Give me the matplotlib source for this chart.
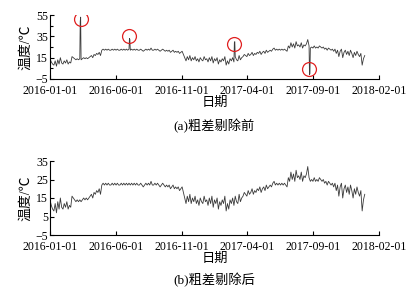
import pandas as pd
import matplotlib
matplotlib.use("Agg")
import matplotlib.pyplot as plt
import matplotlib.dates as mdates

plt.rcParams['font.family'] = ['Liberation Serif', 'Noto Sans CJK SC']
plt.rcParams['axes.unicode_minus'] = True

# daily temperature, one reading every 3 days from 2016-01-01
temps = [
    14, 11, 9, 8, 12, 7, 13, 9, 15, 10,
    9, 12, 10, 13, 9, 11, 10,
    16, 15, 14,
    13, 14, 13, 14, 13, 14, 15, 14, 15, 14,
    15, 16, 17, 15, 18, 17, 19, 18, 20,
    17, 22,
    23, 22, 23, 22, 23, 22, 22, 23, 22,
    23, 22, 23, 22, 22, 23, 22, 23, 22, 23,
    22, 23, 22, 23, 22, 23, 22, 23, 22, 22,
    23, 22, 21, 22, 23, 22, 23, 22, 24, 22,
    22, 23, 22, 23, 22, 21, 22, 23, 22, 21,
    22, 21, 22, 20, 21, 22, 20, 21, 20, 21,
    19, 20, 21,
    18, 15, 12, 16, 13, 17, 12,
    15, 13, 16, 12, 14, 11, 15, 13, 12, 16, 13, 14,
    11, 15, 12, 16, 10, 14, 12, 15, 9, 13, 11, 14, 12, 16,
    8, 12, 9, 14,
    12, 15, 11, 16, 13, 12, 17, 13, 15, 16,
    18, 17, 16, 19, 17, 18, 20, 17, 19, 18,
    20, 19, 21, 18, 20, 21, 19, 22, 20, 21,
    22, 21, 23, 24, 22, 23, 22, 23, 22, 23,
    22, 23, 22, 21,
    26, 24, 29, 25, 28, 24, 30, 26, 27, 25, 29, 24, 27, 26, 28, 32,
    26, 24, 25, 24, 26, 24, 25, 24, 26, 25,
    24, 25, 23, 24, 22, 24, 23, 22, 23, 21,
    23, 19, 22, 16, 21, 23, 15, 20, 22, 18,
    21, 17, 22, 19, 15, 20, 17, 21, 18, 16,
    19, 8, 14, 17,
]

# gross errors present in the raw record
outlier_dates = ['2016-03-11', '2016-03-12', '2016-07-03', '2016-07-04',
                 '2017-03-03', '2017-03-04', '2017-08-24', '2017-08-25']
outlier_vals = [49, 53, 33, 32, 29, 30, -1, 0]

# red circles marking them
circle_dates = ['2016-03-12', '2016-07-03', '2017-03-03', '2017-08-24']
circle_vals = [51, 35.5, 28, 4.5]

tick_dates = ['2016-01-01', '2016-06-01', '2016-11-01',
              '2017-04-01', '2017-09-01', '2018-02-01']

clean = pd.Series(temps, index=pd.date_range('2016-01-01', periods=len(temps), freq='3D'))
raw = pd.concat([clean, pd.Series(outlier_vals, index=pd.to_datetime(outlier_dates))]).sort_index()

W, H = 409, 291
fig = plt.figure(figsize=(W / 100, H / 100), dpi=100)
ax1 = fig.add_axes([50 / W, 1 - 79 / H, 329 / W, 64 / H])
ax2 = fig.add_axes([50 / W, 1 - 235 / H, 329 / W, 74 / H])


def style(ax):
    for s in ('top', 'right'):
        ax.spines[s].set_visible(False)
    for s in ('left', 'bottom'):
        ax.spines[s].set_linewidth(0.8)
    ax.set_xlim(pd.Timestamp('2016-01-01'), pd.Timestamp('2018-02-01'))
    ax.set_xticks(pd.to_datetime(tick_dates))
    ax.xaxis.set_major_formatter(mdates.DateFormatter('%Y-%m-%d'))
    ax.tick_params(direction='in', length=3, width=0.8, labelsize=8.5)
    ax.tick_params(axis='x', pad=4.5)
    ax.tick_params(axis='y', pad=1.5)
    ax.tick_params(which='minor', direction='in', length=2, width=0.8)
    ax.set_ylabel('温度/℃', fontsize=10, labelpad=2)
    ax.set_xlabel('日期', fontsize=9.5, labelpad=0)


ax1.plot(raw.index, raw.values, color='#3a3a3a', lw=0.6)
ax1.plot(pd.to_datetime(circle_dates), circle_vals, 'o', ms=10, mfc='none',
         mec='#e02020', mew=0.9)
ax1.set_ylim(-5, 55)
ax1.set_yticks([-5, 15, 35, 55])
ax1.set_yticks([5, 25, 45], minor=True)
style(ax1)

ax2.plot(clean.index, clean.values, color='#3a3a3a', lw=0.6)
ax2.set_ylim(-5, 35)
ax2.set_yticks([-5, 5, 15, 25, 35])
style(ax2)

fig.text(214 / W, 1 - 126 / H, '(a)粗差剔除前', ha='center', va='center', fontsize=9.5)
fig.text(214 / W, 1 - 280 / H, '(b)粗差剔除后', ha='center', va='center', fontsize=9.5)

fig.savefig('out.png', dpi=100)
